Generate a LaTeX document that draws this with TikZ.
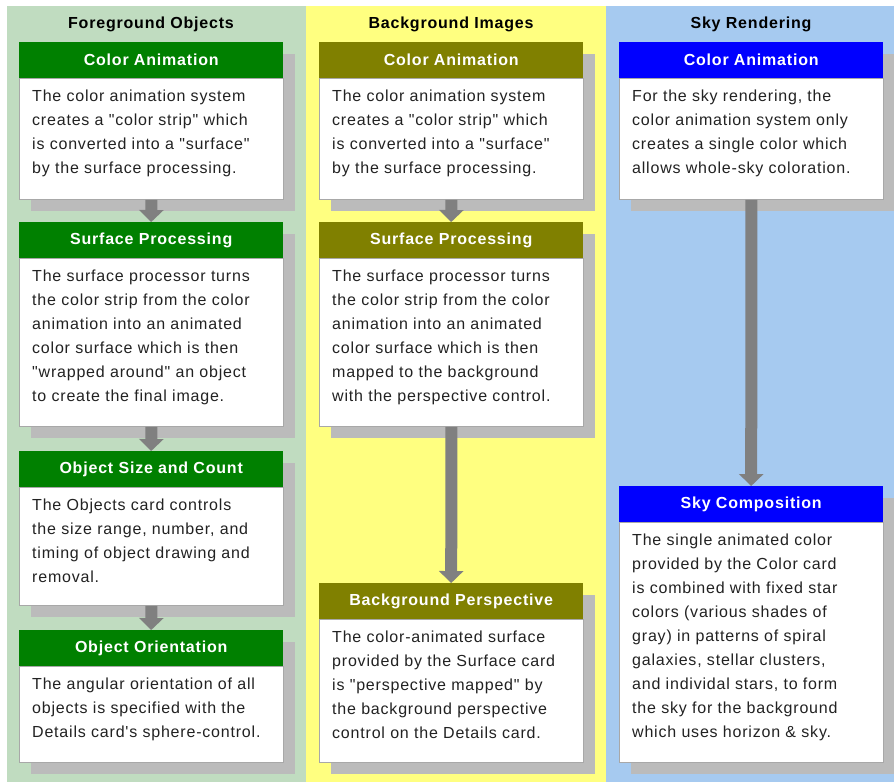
\documentclass[tikz,border=0pt]{standalone}
\usepackage{fontspec}
\setmainfont{Liberation Sans}[LetterSpace=5, Ligatures=TeXOff]
\usetikzlibrary{arrows.meta}
\definecolor{colgreen}{HTML}{C0DCC0}
\definecolor{colyellow}{HTML}{FFFF80}
\definecolor{colblue}{HTML}{A6CAF0}
\definecolor{hdrgreen}{HTML}{008000}
\definecolor{hdrolive}{HTML}{808000}
\definecolor{hdrblue}{HTML}{0000FF}
\definecolor{shadowc}{HTML}{BBBBBB}
\definecolor{arrowc}{HTML}{808080}
\definecolor{borderc}{HTML}{A8A8A8}
\definecolor{textc}{HTML}{222222}
\tikzset{
  coltitle/.style={font=\bfseries\fontsize{16}{19}\selectfont, text=black, inner sep=0pt},
  hdrbox/.style={anchor=north west, minimum width=264pt, minimum height=36pt, inner sep=0pt,
    text=white, font=\bfseries\fontsize{16}{19}\selectfont},
  bodybox/.style={anchor=north west, fill=white, draw=borderc, line width=0.8pt, minimum width=264pt, inner sep=0pt},
  bodytext/.style={anchor=north west, inner sep=0pt, align=left, text=textc, font=\fontsize{16}{24}\selectfont},
  flowarrow/.style={draw=arrowc, line width=12pt, -{Triangle[width=24pt,length=12pt]}}
}
\newcommand{\mycard}[7]{%
  \fill[shadowc] (#2+12,#3+12) rectangle (#2+276,#4+12);
  \node[bodybox, minimum height={(#4-#3-36)*1pt}] (#1b) at (#2,#3+36) {};
  \node[hdrbox, fill=#5] (#1h) at (#2,#3) {#6};
  \node[bodytext] (#1t) at (#2+13,#3+47) {\rule{0pt}{12pt}#7};
}
\begin{document}
\begin{tikzpicture}[x=1pt,y=-1pt]
\useasboundingbox (0,0) rectangle (894,782);
\fill[white] (0,0) rectangle (894,782);
\fill[colgreen] (7,6) rectangle (306,782);
\fill[colyellow] (306,6) rectangle (606,782);
\fill[colblue] (606,6) rectangle (894,782);

\node[coltitle] (t1) at (151,24.5) {Foreground Objects};
\node[coltitle] (t2) at (451,24.5) {Background Images};
\node[coltitle] (t3) at (751,24.5) {Sky Rendering};

% Foreground column
\mycard{fa}{19}{42}{199}{hdrgreen}{Color Animation}{The color animation system\\creates a "color strip" which\\is converted into a "surface"\\by the surface processing.}
\mycard{fb}{19}{222}{426}{hdrgreen}{Surface Processing}{The surface processor turns\\the color strip from the color\\animation into an animated\\color surface which is then\\"wrapped around" an object\\to create the final image.}
\mycard{fc}{19}{451}{605}{hdrgreen}{Object Size and Count}{The Objects card controls\\the size range, number, and\\timing of object drawing and\\removal.}
\mycard{fd}{19}{630}{762}{hdrgreen}{Object Orientation}{The angular orientation of all\\objects is specified with the\\Details card's sphere-control.}

% Background column
\mycard{ba}{319}{42}{199}{hdrolive}{Color Animation}{The color animation system\\creates a "color strip" which\\is converted into a "surface"\\by the surface processing.}
\mycard{bb}{319}{222}{426}{hdrolive}{Surface Processing}{The surface processor turns\\the color strip from the color\\animation into an animated\\color surface which is then\\mapped to the background\\with the perspective control.}
\mycard{bc}{319}{583}{762}{hdrolive}{Background Perspective}{The color-animated surface\\provided by the Surface card\\is "perspective mapped" by\\the background perspective\\control on the Details card.}

% Sky column
\mycard{sa}{619}{42}{199}{hdrblue}{Color Animation}{For the sky rendering, the\\color animation system only\\creates a single color which\\allows whole-sky coloration.}
\mycard{sb}{619}{486}{762}{hdrblue}{Sky Composition}{The single animated color\\provided by the Color card\\is combined with fixed star\\colors (various shades of\\gray) in patterns of spiral\\galaxies, stellar clusters,\\and individal stars, to form\\the sky for the background\\which uses horizon \& sky.}

% Arrows
\draw[flowarrow] (fab.south) -- (fbh.north);
\draw[flowarrow] (fbb.south) -- (fch.north);
\draw[flowarrow] (fcb.south) -- (fdh.north);
\draw[flowarrow] (bab.south) -- (bbh.north);
\draw[flowarrow] (bbb.south) -- (bch.north);
\draw[flowarrow] (sab.south) -- (sbh.north);
\end{tikzpicture}
\end{document}
